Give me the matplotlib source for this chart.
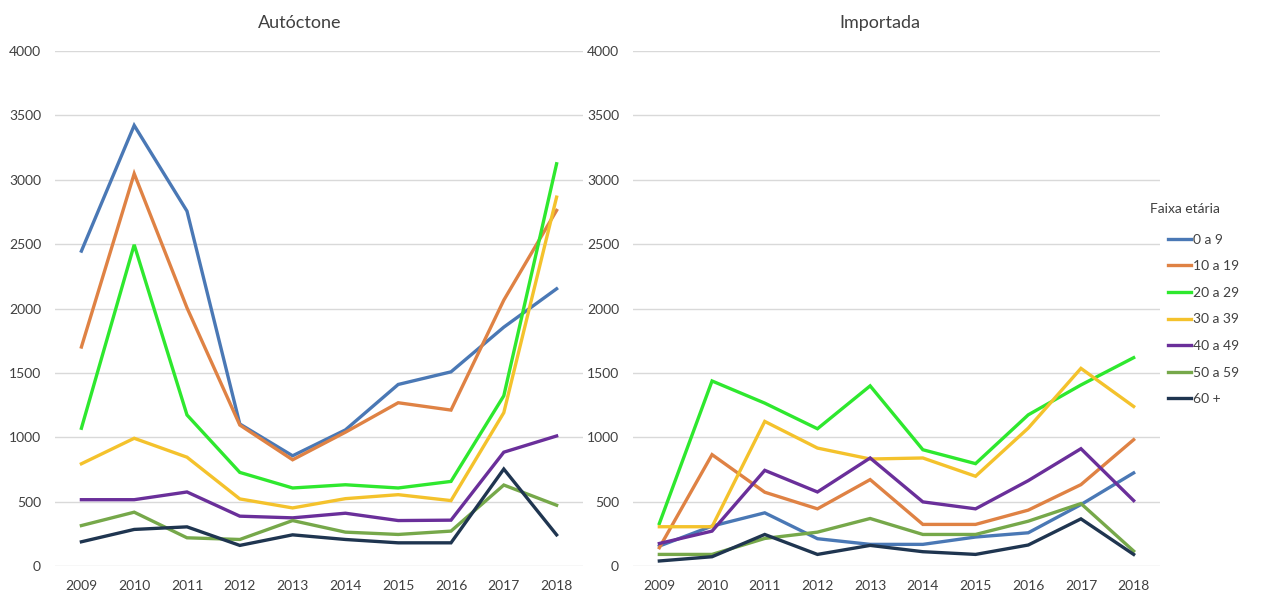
import matplotlib
matplotlib.use("Agg")
import matplotlib.pyplot as plt
from matplotlib.lines import Line2D

plt.rcParams['font.family'] = ['Lato', 'DejaVu Sans']

years = [2009, 2010, 2011, 2012, 2013, 2014, 2015, 2016, 2017, 2018]
age_groups = ["0 a 9", "10 a 19", "20 a 29", "30 a 39", "40 a 49", "50 a 59", "60 +"]
colors = ["#4a78b5", "#df8244", "#2ee82e", "#f4c22c", "#6a2f9a", "#76a84a", "#1f3550"]

# Autochthonous cases by age group
aut_0_9 = [2446, 3422, 2756, 1103, 856, 1057, 1410, 1508, 1855, 2153]
aut_10_19 = [1701, 3047, 2005, 1095, 825, 1039, 1268, 1211, 2065, 2762]
aut_20_29 = [1070, 2495, 1173, 727, 606, 631, 606, 657, 1322, 3124]
aut_30_39 = [794, 992, 845, 521, 451, 523, 554, 508, 1191, 2865]
aut_40_49 = [515, 515, 575, 387, 374, 410, 353, 356, 884, 1010]
aut_50_59 = [314, 418, 219, 206, 353, 263, 245, 271, 629, 472]
aut_60 = [188, 284, 304, 160, 242, 206, 180, 180, 753, 242]

# Imported cases by age group
imp_0_9 = [155, 310, 413, 212, 168, 168, 225, 258, 477, 723]
imp_10_19 = [142, 865, 573, 444, 671, 323, 323, 434, 632, 981]
imp_20_29 = [330, 1437, 1265, 1066, 1399, 903, 795, 1174, 1406, 1618]
imp_30_39 = [305, 305, 1123, 916, 831, 839, 697, 1071, 1535, 1239]
imp_40_49 = [175, 271, 743, 575, 839, 498, 444, 663, 911, 508]
imp_50_59 = [90, 90, 214, 263, 369, 245, 245, 348, 485, 116]
imp_60 = [39, 72, 245, 90, 160, 111, 90, 163, 366, 90]

autoctone = [aut_0_9, aut_10_19, aut_20_29, aut_30_39, aut_40_49, aut_50_59, aut_60]
importada = [imp_0_9, imp_10_19, imp_20_29, imp_30_39, imp_40_49, imp_50_59, imp_60]

W, H = 1265, 595
fig = plt.figure(figsize=(W / 100, H / 100), dpi=100)
ax1 = fig.add_axes([55 / W, 29 / H, 528 / W, 515 / H])
ax2 = fig.add_axes([633 / W, 29 / H, 527 / W, 515 / H])

text_color = "#404040"
for ax, data in ((ax1, autoctone), (ax2, importada)):
    for series, c in zip(data, colors):
        ax.plot(range(len(years)), series, color=c, lw=2.4, solid_joinstyle='miter')
    ax.set_xlim(-0.5, len(years) - 0.5)
    ax.set_ylim(0, 4000)
    ax.set_yticks(range(0, 4001, 500))
    ax.set_xticks(range(len(years)))
    ax.set_xticklabels([str(y) for y in years])
    ax.grid(axis='y', color="#d9d9d9", lw=1.0)
    ax.set_axisbelow(True)
    for s in ax.spines.values():
        s.set_visible(False)
    ax.tick_params(axis='both', length=0, labelsize=10, colors=text_color)
    ax.tick_params(axis='y', pad=10)
    ax.tick_params(axis='x', pad=10)

fig.text(300 / W, 1 - 23 / H, "Autóctone", ha='center', va='center',
         fontsize=13, color=text_color)
fig.text(880 / W, 1 - 23 / H, "Importada", ha='center', va='center',
         fontsize=13, color=text_color)

# Legend: title placed separately, entries stacked below it
fig.text(1150 / W, 1 - 209 / H, "Faixa etária", ha='left', va='center',
         fontsize=10, color=text_color)
handles = [Line2D([0], [0], color=c, lw=2.4) for c in colors]
leg = fig.legend(handles, age_groups, loc='upper left',
                 bbox_to_anchor=(1158 / W, 1 - 224 / H), frameon=False,
                 fontsize=10, handlelength=1.7, handletextpad=0.15,
                 labelspacing=1.05, borderpad=0.2)
for t in leg.get_texts():
    t.set_color(text_color)

fig.savefig("out.png", dpi=100)
